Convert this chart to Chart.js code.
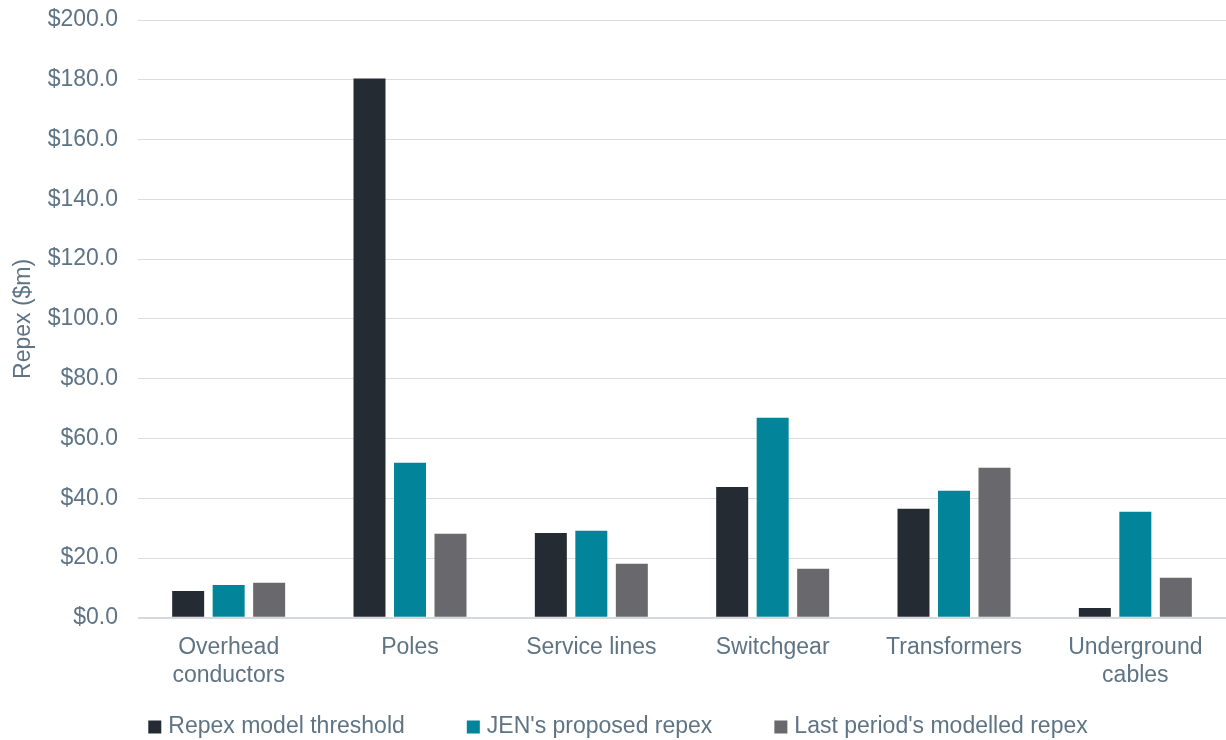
<!DOCTYPE html>
<html>
<head>
<meta charset="utf-8">
<script src="https://cdn.jsdelivr.net/npm/chart.js@4/dist/chart.umd.min.js"></script>
<style>
  html, body { margin: 0; padding: 0; background: #fff; }
  #wrap { width: 1226px; height: 740px; }
</style>
</head>
<body>
<div id="wrap"><canvas id="myChart"></canvas></div>
<script>
const categories = [
    ['Overhead', 'conductors'],
    'Poles',
    'Service lines',
    'Switchgear',
    'Transformers',
    ['Underground', 'cables']
];

// values in $m
const thresholdValues = [9.0, 180.4, 28.4, 43.8, 36.5, 3.3];
const proposedValues  = [11.0, 51.9, 29.1, 66.9, 42.5, 35.5];
const lastPeriodValues = [11.7, 28.1, 18.1, 16.4, 50.2, 13.4];

const seriesNames = ['Repex model threshold', "JEN's proposed repex", "Last period's modelled repex"];
const seriesColors = ['#242b33', '#02859a', '#69696d'];

const textColor = '#5e7485';
const fontFamily = "'Liberation Sans', Arial, sans-serif";
const font = { family: fontFamily, size: 23 };

// Legend drawn by hand so the items can be spread wide without a tall legend box
const spacedLegend = {
    id: 'spacedLegend',
    afterDraw(chart) {
        const c = chart.ctx;
        const box = 13, boxGap = 7, itemGap = 62;
        c.save();
        c.font = font.size + 'px ' + fontFamily;
        c.textBaseline = 'middle';
        const items = chart.data.datasets.map(ds => ({
            text: ds.label,
            color: ds.backgroundColor,
            w: box + boxGap + c.measureText(ds.label).width
        }));
        const total = items.reduce((s, it) => s + it.w, 0) + itemGap * (items.length - 1);
        let x = (chart.width - total) / 2 + 5;
        const y = chart.height - 13;
        items.forEach(it => {
            c.fillStyle = it.color;
            c.fillRect(x, y - box / 2, box, box);
            c.fillStyle = textColor;
            c.fillText(it.text, x + box + boxGap, y);
            x += it.w + itemGap;
        });
        c.restore();
    }
};

const ctx = document.getElementById('myChart');

function makeSet(i, values) {
    return {
        label: seriesNames[i],
        data: values,
        backgroundColor: seriesColors[i],
        borderWidth: 0,
        barPercentage: 0.79,
        categoryPercentage: 0.67
    };
}

new Chart(ctx, {
    type: 'bar',
    data: {
        labels: categories,
        datasets: [
            makeSet(0, thresholdValues),
            makeSet(1, proposedValues),
            makeSet(2, lastPeriodValues)
        ]
    },
    options: {
        responsive: true,
        maintainAspectRatio: false,
        animation: false,
        layout: {
            padding: { top: 20, right: 0, left: 0, bottom: 43 }
        },
        scales: {
            x: {
                grid: { display: false },
                border: { display: false },
                ticks: { color: textColor, font: font, padding: 8, maxRotation: 0 }
            },
            y: {
                min: 0,
                max: 200,
                afterFit: function(scale) {
                    scale.width = 138;
                    scale.paddingTop = 0;
                },
                ticks: {
                    stepSize: 20,
                    color: textColor,
                    font: font,
                    padding: 20,
                    callback: function(value) {
                        return '$' + value.toFixed(1);
                    }
                },
                grid: {
                    drawTicks: false,
                    color: function(c) {
                        return c.tick && c.tick.value === 0 ? '#d5d9dd' : '#dcdcdc';
                    },
                    lineWidth: function(c) {
                        return c.tick && c.tick.value === 0 ? 2 : 1;
                    }
                },
                border: { display: false },
                title: {
                    display: true,
                    text: 'Repex ($m)',
                    color: textColor,
                    font: font,
                    padding: { top: 10, bottom: 0 }
                }
            }
        },
        plugins: {
            legend: { display: false },
            tooltip: { enabled: false }
        }
    },
    plugins: [spacedLegend]
});
</script>
</body>
</html>
